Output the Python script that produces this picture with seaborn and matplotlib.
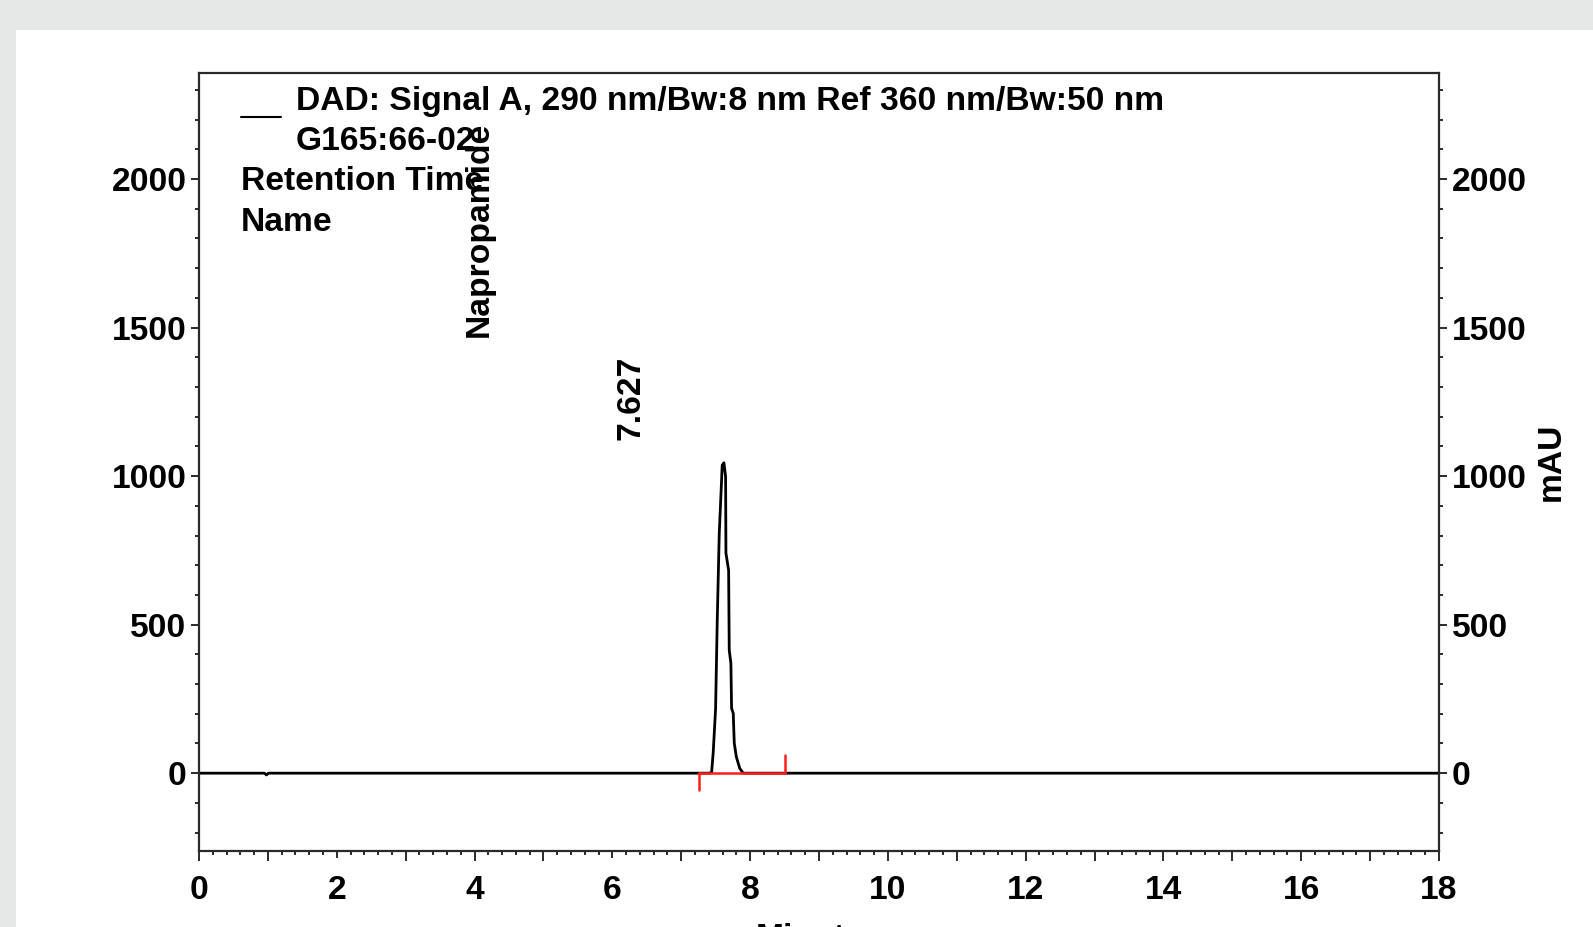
import numpy as np
import pandas as pd
import seaborn as sns
import matplotlib.pyplot as plt
from matplotlib.patches import Rectangle
from matplotlib.ticker import MultipleLocator, FuncFormatter

# chromatogram trace (minutes, mAU)
minutes = [0.0, 0.95, 0.98, 1.01, 7.40, 7.441, 7.465, 7.499, 7.523, 7.552, 7.586, 7.595,
           7.62, 7.644, 7.649, 7.688, 7.697, 7.721, 7.731, 7.755, 7.77, 7.80, 7.85,
           7.90, 18.0]
signal = [0, 0, -6, 0, 0, 2, 72, 218, 515, 807, 987, 1037,
          1045, 998, 741, 683, 414, 370, 218, 202, 101, 55, 16,
          0, 0]

# integration baseline of the peak
base_start, base_end = 7.257, 8.51
base_drop, base_rise = -57, 60

peak_rt = "7.627"
peak_name = "Napropamide"
signal_name = "DAD: Signal A, 290 nm/Bw:8 nm Ref 360 nm/Bw:50 nm"
sample_name = "G165:66-02"

sns.set_theme(style="white")
plt.rcParams['font.family'] = ['Liberation Sans', 'DejaVu Sans']
plt.rcParams['font.weight'] = 'bold'
plt.rcParams['text.color'] = 'black'
plt.rcParams['axes.labelcolor'] = 'black'
plt.rcParams['xtick.color'] = 'black'
plt.rcParams['ytick.color'] = 'black'
fs = 24.2

df = pd.DataFrame({"Minutes": minutes, "mAU": signal})

fig = plt.figure(figsize=(15.93, 9.27), dpi=100, facecolor='#e6e8e8')
fig.patches.append(Rectangle((16 / 1593, 0), 1, 1 - 30 / 927, transform=fig.transFigure,
                             facecolor='white', edgecolor='none', zorder=-5))
ax = fig.add_axes([199 / 1593, 76 / 927, 1240 / 1593, 778 / 927])
ax.set_zorder(2)
ax.set_facecolor('white')

sns.lineplot(data=df, x="Minutes", y="mAU", ax=ax, color='black', linewidth=2.0,
             estimator=None, sort=False)

# red baseline markers
red = '#ff1f1f'
ax.plot([base_start, base_end], [0, 0], color=red, lw=1.8, zorder=3)
ax.plot([base_start, base_start], [0, base_drop], color=red, lw=1.8, zorder=3)
ax.plot([base_end, base_end], [0, base_rise], color=red, lw=1.8, zorder=3)

ax.set_xlim(0, 18)
ax.set_ylim(-262, 2357)

for s in ax.spines.values():
    s.set_color('#2a2a2a')
    s.set_linewidth(1.6)
    s.set_visible(True)

ax.xaxis.set_major_locator(MultipleLocator(1))
ax.xaxis.set_minor_locator(MultipleLocator(0.2))
ax.xaxis.set_major_formatter(FuncFormatter(lambda v, p: f"{int(round(v))}" if round(v) % 2 == 0 else ""))
ax.yaxis.set_major_locator(MultipleLocator(500))
ax.yaxis.set_minor_locator(MultipleLocator(100))

tick_col = '#2a2a2a'
ax.tick_params(axis='x', which='major', bottom=True, direction='out', length=7.2, width=1.4,
               color=tick_col, labelsize=fs, pad=10)
ax.tick_params(axis='x', which='minor', bottom=True, direction='out', length=2.9, width=1.4,
               color=tick_col)
ax.tick_params(axis='y', which='major', left=True, right=True, labelleft=True, labelright=True,
               direction='out', length=6, width=1.4, color=tick_col, labelsize=fs, pad=3)
ax.tick_params(axis='y', which='minor', left=True, right=True, direction='out', length=2.9,
               width=1.4, color=tick_col)
for t in ax.xaxis.get_major_ticks():
    if round(t.get_loc()) % 2 == 1:
        t.tick1line.set_markersize(5)

for lab in ax.get_xticklabels() + ax.get_yticklabels():
    lab.set_fontweight('bold')

ax.set_xlabel("Minutes", fontsize=fs, fontweight='bold')
ax.xaxis.set_label_coords(0.5, -0.092)
ax.set_ylabel("mAU", fontsize=fs, fontweight='bold')
ax.yaxis.set_label_position('right')
ax.yaxis.set_label_coords(1.078, 0.5)

# header block
ax.plot([0.034, 0.066], [0.943, 0.943], transform=ax.transAxes, color='black', lw=1.5)
ax.text(0.0782, 0.9635, signal_name, transform=ax.transAxes, fontsize=fs, fontweight='bold', va='center')
ax.text(0.0782, 0.9125, sample_name, transform=ax.transAxes, fontsize=fs, fontweight='bold', va='center')
ax.text(0.034, 0.8600, "Retention Time", transform=ax.transAxes, fontsize=fs, fontweight='bold', va='center')
ax.text(0.034, 0.8080, "Name", transform=ax.transAxes, fontsize=fs, fontweight='bold', va='center')

# peak labels
ax.text(4.07, 1468, peak_name, rotation=90, ha='center', va='bottom', fontsize=fs, fontweight='bold')
ax.text(6.27, 1121, peak_rt, rotation=90, ha='center', va='bottom', fontsize=fs, fontweight='bold')

fig.savefig("out.png", dpi=100, facecolor=fig.get_facecolor())
